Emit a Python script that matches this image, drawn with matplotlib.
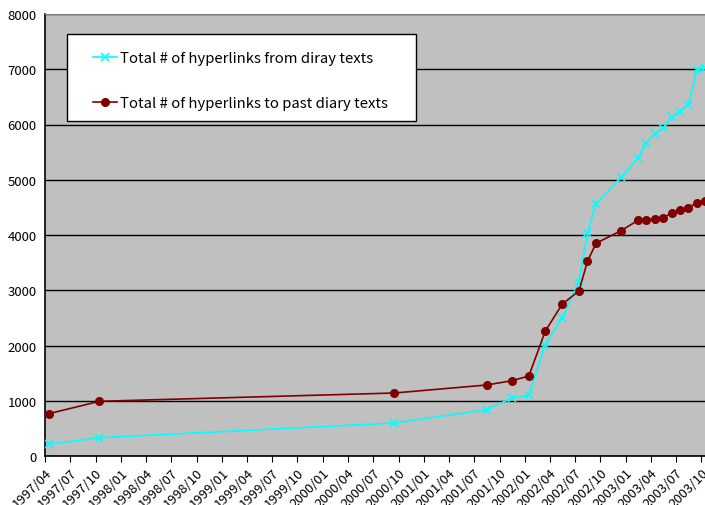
import pandas as pd
import numpy as np
import matplotlib
matplotlib.use('Agg')
import matplotlib.pyplot as plt
import matplotlib.dates as mdates
from matplotlib.patches import Rectangle

plt.rcParams['font.family'] = ['Noto Sans CJK JP', 'DejaVu Sans']

dates = pd.to_datetime([
    '1997-04-15', '1997-10-15', '2000-09-15', '2001-08-15', '2001-11-15',
    '2002-01-15', '2002-03-15', '2002-05-15', '2002-07-15', '2002-08-15',
    '2002-09-15', '2002-12-15', '2003-02-15', '2003-03-15', '2003-04-15',
    '2003-05-15', '2003-06-15', '2003-07-15', '2003-08-15', '2003-09-15',
    '2003-10-15'])

links_from = [217, 331, 597, 838, 1050, 1104, 2015, 2492, 3155, 4031, 4567,
              5044, 5400, 5665, 5828, 5931, 6136, 6232, 6353, 6987, 7023]
links_to = [766, 990, 1140, 1285, 1363, 1448, 2257, 2746, 2987, 3524, 3850,
            4080, 4270, 4272, 4290, 4313, 4393, 4453, 4494, 4585, 4610]

label_from = 'Total # of hyperlinks from diray texts'
label_to = 'Total # of hyperlinks to past diary texts'

W, H = 705, 506
fig = plt.figure(figsize=(W / 100, H / 100), dpi=100)
ax = fig.add_axes([45 / W, 1 - 457 / H, 660 / W, 442 / H])
ax.set_facecolor('#c0c0c0')

ax.plot(dates, links_from, color='#00ffff', marker='x', markersize=6,
        markeredgewidth=1.2, linewidth=1.2, label=label_from, zorder=3)
ax.plot(dates, links_to, color='#800000', marker='o', markersize=5.5,
        linewidth=1.2, label=label_to, zorder=3)

ax.set_ylim(0, 8000)
ax.set_yticks(np.arange(0, 8001, 1000))
ax.yaxis.grid(True, color='black', linewidth=1)
ax.set_axisbelow(True)

ax.set_xlim(pd.Timestamp('1997-04-01'), pd.Timestamp('2003-10-14'))
ax.xaxis.set_major_locator(mdates.MonthLocator(bymonth=[1, 4, 7, 10]))
ax.xaxis.set_major_formatter(mdates.DateFormatter('%Y/%m'))
plt.setp(ax.get_xticklabels(), rotation=45, ha='right', rotation_mode='anchor')
ax.tick_params(axis='x', direction='out', length=4, labelsize=9.5, pad=3)
ax.tick_params(axis='y', direction='out', length=0, labelsize=9.5, pad=6)

for side in ['left', 'bottom']:
    ax.spines[side].set_color('black')
    ax.spines[side].set_linewidth(1.2)
ax.spines['top'].set_color('#808080')
ax.spines['right'].set_visible(False)

# legend box (Excel style, wide padding)
box = Rectangle((67 / W, 1 - 122 / H), (416 - 67) / W, 87 / H,
                transform=fig.transFigure, facecolor='white',
                edgecolor='black', linewidth=1, zorder=4)
ax.add_patch(box)
box.set_clip_on(False)

leg = ax.legend(loc='upper left', bbox_to_anchor=(93 / W, 1 - 52 / H),
                bbox_transform=fig.transFigure, frameon=False,
                fontsize=10.7, borderpad=0, labelspacing=2.1,
                handlelength=1.6, handletextpad=0.25, borderaxespad=0)
leg.set_zorder(5)

fig.savefig('out.png', dpi=100)
